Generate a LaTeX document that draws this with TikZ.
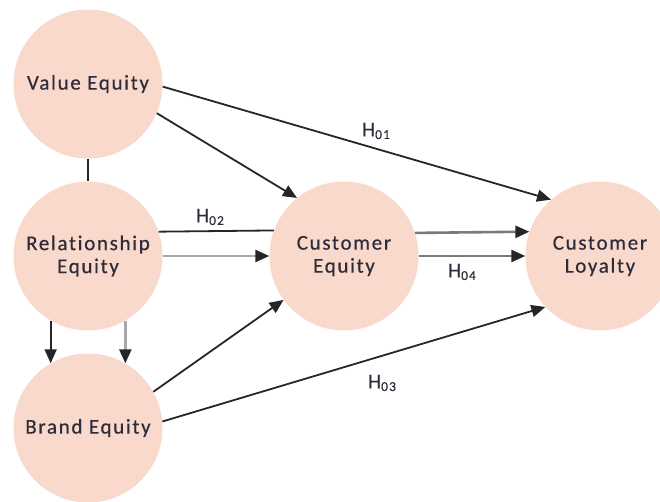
\documentclass[tikz,border=0pt]{standalone}
\usepackage{fontspec}
\setmainfont{Carlito}[LetterSpace=8,FakeBold=0.45,Ligatures=NoCommon]
\usetikzlibrary{arrows.meta}
\definecolor{peach}{HTML}{F9D9CC}
\definecolor{ink}{HTML}{2E2C3A}
\definecolor{linedark}{HTML}{262626}
\definecolor{linemid}{HTML}{7A7A7A}
\definecolor{linelight}{HTML}{A8A8A8}
\newcommand{\hyp}[1]{H\raisebox{-2.5pt}{\fontsize{13.5}{13.5}\selectfont #1}}
\begin{document}
\begin{tikzpicture}[x=1pt,y=-1pt,
  factor/.style={circle, fill=peach, minimum size=149pt, inner sep=0pt,
    text=ink, align=center, font=\fontsize{21}{23}\selectfont},
  link/.style={draw=linedark, line width=1.8pt},
  tip/.style={-{Triangle[length=14pt,width=12pt,color=linedark]}},
  arr/.style={link, tip},
  grayarr/.style={draw=#1, line width=2.6pt, tip},
  hlabel/.style={text=ink, font=\fontsize{21}{24}\selectfont, inner sep=0pt}
]
\useasboundingbox (0,0) rectangle (660,502);

% constructs
\node[factor] (ve) at (88,84)  {Value Equity};
\node[factor] (re) at (88,256) {Relationship\\Equity};
\node[factor] (be) at (88,428) {Brand Equity};
\node[factor] (ce) at (344,256) {Customer\\Equity};
\node[factor] (cl) at (600,256) {Customer\\Loyalty};

% links between the equity drivers
\draw[link] (ve.south) -- (re.north);
\draw[arr] (re.-120.7) -- (be.120.7);
\draw[grayarr=linelight] (re.-60.2) -- (be.60.2);

% paths to customer equity
\draw[arr] (ve.-23) -- (ce.129);
\draw[link] (re.19.6) -- (ce.160.4);
\draw[grayarr=linelight] (re.east) -- (ce.west);
\draw[arr] (be.29) -- (ce.-144);

% paths to customer loyalty
\draw[arr] (ve.-2) -- (cl.131);
\draw[grayarr=linemid] (ce.18.8) -- (cl.161.2);
\draw[grayarr=linemid] (ce.east) -- (cl.west);
\draw[arr] (be.5.4) -- (cl.-137);

% hypothesis labels
\node[hlabel] (h1) at (376,131) {\hyp{01}};
\node[hlabel] (h2) at (210,217) {\hyp{02}};
\node[hlabel] (h3) at (382,383) {\hyp{03}};
\node[hlabel] (h4) at (462,272) {\hyp{04}};
\end{tikzpicture}
\end{document}
